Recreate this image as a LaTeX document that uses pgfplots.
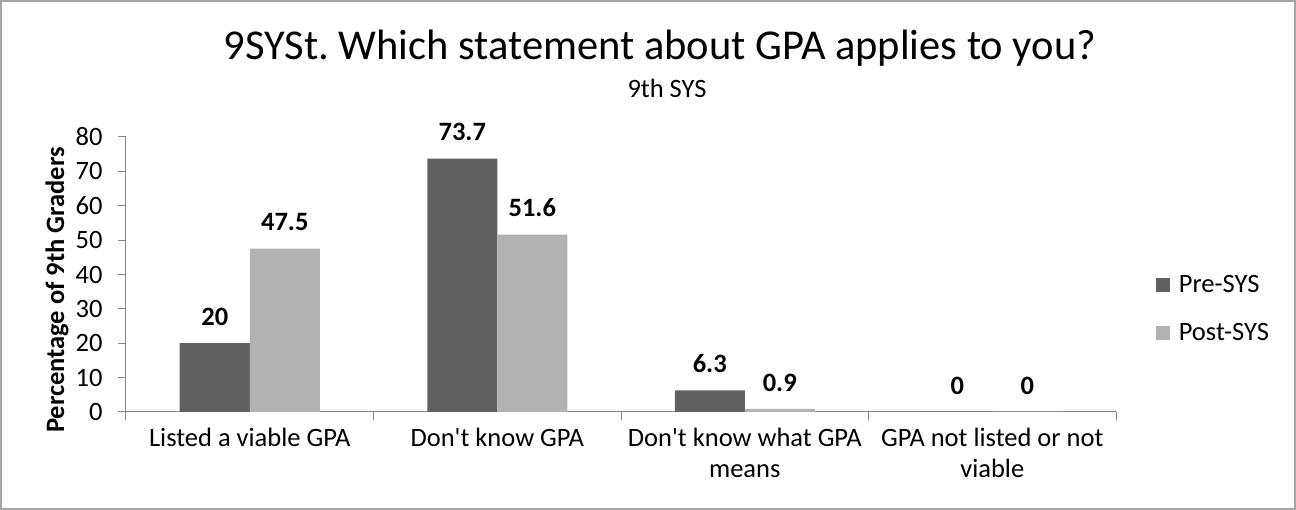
\documentclass[border=0pt]{standalone}
\usepackage{fontspec}
\setmainfont{Carlito}
\newfontfamily\qfont{Carlito}
\usepackage{pgfplots}
\pgfplotsset{compat=1.18}
\definecolor{preC}{HTML}{616161}
\definecolor{postC}{HTML}{B2B2B2}
\definecolor{axC}{HTML}{868686}
\newcommand{\fs}{\fontsize{26.5}{31}\selectfont}
\newcommand{\ap}{{\qfont'}}
\frenchspacing

\begin{document}
\begin{tikzpicture}
\path[use as bounding box] (-126pt,-98pt) rectangle (1170pt,412pt);
\draw[color=black!35, line width=2pt] (-125pt,-97pt) rectangle (1169pt,411pt);
\begin{axis}[
  at={(0pt,0pt)}, anchor=south west,
  scale only axis, width=990pt, height=275pt,
  xmin=0, xmax=4, ymin=0, ymax=80,
  ytick={0,10,...,80},
  xtick={0.5,1.5,2.5,3.5},
  xticklabels={Listed a viable GPA, Don\ap t know GPA, {Don\ap t know what GPA\\means}, {GPA not listed or not\\viable}},
  minor xtick={0,1,2,3,4},
  major x tick style={draw=none},
  axis lines=left,
  axis line style={-, draw=axC, line width=1pt},
  tick align=outside,
  major tick length=8pt, minor tick length=8pt,
  every tick/.style={draw=axC, line width=1pt},
  /pgf/number format/assume math mode=true,
  tick label style={font=\fs},
  y tick label style={xshift=-12pt},
  x tick label style={align=center, yshift=-5pt},
  ybar=0pt, bar width=70pt,
  nodes near coords,
  every node near coord/.append style={font=\bfseries\fs, yshift=14pt},
  legend style={at={(1.04,0.375)}, anchor=west, draw=none, font=\fs,
    row sep=25pt, inner sep=0pt, cells={anchor=west}},
  legend image code/.code={\fill[#1] (0pt,-7pt) rectangle (14pt,7pt); \path (21pt,0pt);},
]
\addplot[fill=preC, draw=none] coordinates {(0.5,20) (1.5,73.7) (2.5,6.3) (3.5,0)};
\addplot[fill=postC, draw=none] coordinates {(0.5,47.5) (1.5,51.6) (2.5,0.9) (3.5,0)};
\legend{Pre-SYS, Post-SYS}
\end{axis}
\node[font=\fontsize{42.5}{50}\selectfont] at (534pt,364pt) {9SYSt. Which statement about GPA applies to you?};
\node[font=\fs] at (541pt,324pt) {9th SYS};
\node[font=\bfseries\fs, rotate=90] at (-69pt,122pt) {Percentage of 9th Graders};
\end{tikzpicture}
\end{document}
